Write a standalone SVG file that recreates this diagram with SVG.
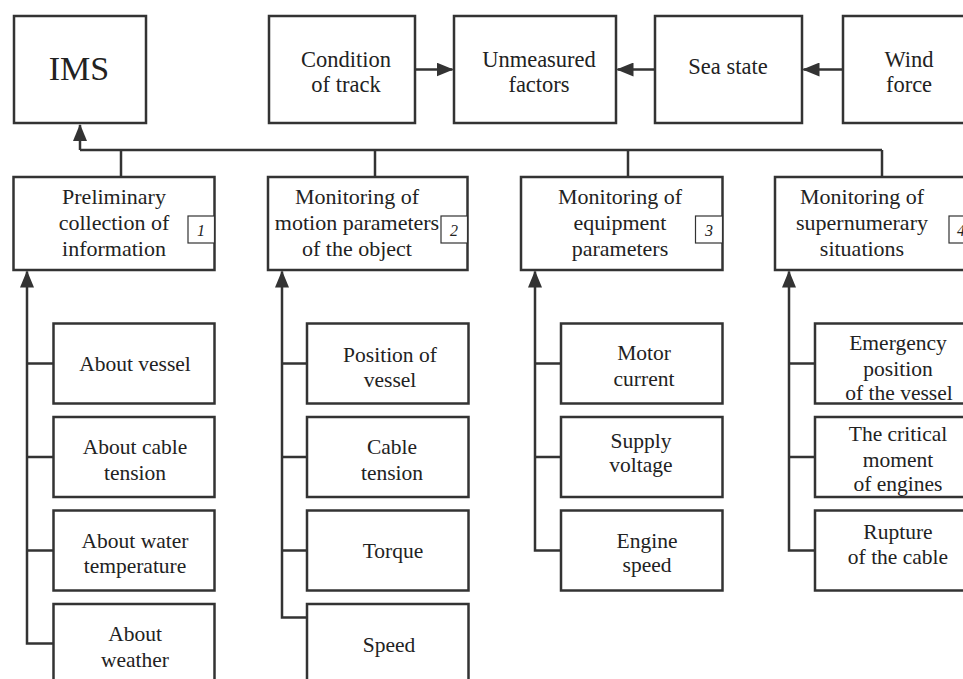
<svg xmlns="http://www.w3.org/2000/svg" width="963" height="679" viewBox="0 0 963 679">
<style>
  .box { fill: #ffffff; stroke: #333333; stroke-width: 2.5; }
  .num { fill: #ffffff; stroke: #333333; stroke-width: 1.2; }
  .t { font-family: "Liberation Serif", "Times New Roman", serif; font-size: 21.5px; fill: #222222; text-anchor: middle; }
  .m { font-family: "Liberation Serif", "Times New Roman", serif; font-size: 22px; fill: #222222; text-anchor: middle; }
  .tt { font-family: "Liberation Serif", "Times New Roman", serif; font-size: 22.5px; fill: #222222; text-anchor: middle; }
  .big { font-family: "Liberation Serif", "Times New Roman", serif; font-size: 34px; fill: #222222; text-anchor: middle; }
  .n { font-family: "Liberation Serif", "Times New Roman", serif; font-size: 16px; font-style: italic; fill: #222222; text-anchor: middle; }
  .c { fill: none; stroke: #333333; stroke-width: 2.5; }
  .a { fill: none; stroke: #333333; stroke-width: 2.5; marker-end: url(#arr); }
</style>
<defs>
  <marker id="arr" markerUnits="userSpaceOnUse" markerWidth="17" markerHeight="14" viewBox="0 0 17 14" refX="16" refY="7" orient="auto">
    <path d="M0,0 L17,7 L0,14 z" fill="#333333"/>
  </marker>
</defs>
<rect width="963" height="679" fill="#ffffff"/>

<g id="connectors">
  <path class="a" d="M80,150 V125"/>
  <path class="c" d="M80,150 H882"/>
  <path class="c" d="M121,150 V177"/>
  <path class="c" d="M375,150 V177"/>
  <path class="c" d="M628,150 V177"/>
  <path class="c" d="M882,150 V177"/>
  <path class="a" d="M415,69.5 H452.5"/>
  <path class="a" d="M655,69.5 H617.5"/>
  <path class="a" d="M843,69.5 H803.5"/>
  <path class="a" d="M53.5,643.5 H27 V271.5"/>
  <path class="c" d="M27,363.5 H53.5 M27,457 H53.5 M27,550.5 H53.5"/>
  <path class="a" d="M307,617.5 H282 V271.5"/>
  <path class="c" d="M282,363.5 H307 M282,457 H307 M282,550.5 H307"/>
  <path class="a" d="M561,550.5 H535 V271.5"/>
  <path class="c" d="M535,363.5 H561 M535,457 H561"/>
  <path class="a" d="M815,550.5 H789 V271.5"/>
  <path class="c" d="M789,363.5 H815 M789,457 H815"/>
</g>

<g id="ims"><rect class="box" x="14" y="16" width="132" height="107"/><text class="big" x="79" y="80">IMS</text></g>
<g id="condition"><rect class="box" x="269" y="16" width="146" height="107"/><text class="tt" x="346" y="67">Condition</text><text class="tt" x="346" y="92">of track</text></g>
<g id="unmeasured"><rect class="box" x="454" y="16" width="162" height="107"/><text class="tt" x="539" y="67">Unmeasured</text><text class="tt" x="539" y="92">factors</text></g>
<g id="sea"><rect class="box" x="655" y="16" width="147" height="107"/><text class="tt" x="728" y="74">Sea state</text></g>
<g id="wind"><rect class="box" x="843" y="16" width="147" height="107"/><text class="tt" x="909" y="67">Wind</text><text class="tt" x="909" y="92">force</text></g>

<g id="m1"><rect class="box" x="13.5" y="177" width="201" height="93"/><rect class="num" x="188" y="216" width="26.5" height="27"/><text class="n" x="201" y="236">1</text>
<text class="m" x="114" y="204">Preliminary</text><text class="m" x="114" y="230">collection of</text><text class="m" x="114" y="256">information</text></g>
<g id="m2"><rect class="box" x="268" y="177" width="199.5" height="93"/><rect class="num" x="441" y="216" width="26.5" height="27"/><text class="n" x="454" y="236">2</text>
<text class="m" x="357" y="204">Monitoring of</text><text class="m" x="357" y="230">motion parameters</text><text class="m" x="357" y="256">of the object</text></g>
<g id="m3"><rect class="box" x="521" y="177" width="201.5" height="93"/><rect class="num" x="695.5" y="216" width="27" height="27"/><text class="n" x="709" y="236">3</text>
<text class="m" x="620" y="204">Monitoring of</text><text class="m" x="620" y="230">equipment</text><text class="m" x="620" y="256">parameters</text></g>
<g id="m4"><rect class="box" x="775" y="177" width="201" height="93"/><rect class="num" x="949" y="216" width="27" height="27"/><text class="n" x="961" y="236">4</text>
<text class="m" x="862" y="204">Monitoring of</text><text class="m" x="862" y="230">supernumerary</text><text class="m" x="862" y="256">situations</text></g>

<g id="s1a"><rect class="box" x="53.5" y="323.5" width="161" height="80"/><text class="t" x="135" y="371">About vessel</text></g>
<g id="s1b"><rect class="box" x="53.5" y="417" width="161" height="80"/><text class="t" x="135" y="454">About cable</text><text class="t" x="135" y="480">tension</text></g>
<g id="s1c"><rect class="box" x="53.5" y="510.5" width="161" height="80"/><text class="t" x="135" y="548">About water</text><text class="t" x="135" y="573">temperature</text></g>
<g id="s1d"><rect class="box" x="53.5" y="604" width="161" height="80"/><text class="t" x="135" y="641">About</text><text class="t" x="135" y="667">weather</text></g>

<g id="s2a"><rect class="box" x="307" y="323.5" width="161.5" height="80"/><text class="t" x="390" y="362">Position of</text><text class="t" x="390" y="387">vessel</text></g>
<g id="s2b"><rect class="box" x="307" y="417" width="161.5" height="80"/><text class="t" x="392" y="454">Cable</text><text class="t" x="392" y="480">tension</text></g>
<g id="s2c"><rect class="box" x="307" y="510.5" width="161.5" height="80"/><text class="t" x="393" y="558">Torque</text></g>
<g id="s2d"><rect class="box" x="307" y="604" width="161.5" height="80"/><text class="t" x="389" y="652">Speed</text></g>

<g id="s3a"><rect class="box" x="561" y="323.5" width="161.5" height="80"/><text class="t" x="644" y="360">Motor</text><text class="t" x="644" y="386">current</text></g>
<g id="s3b"><rect class="box" x="561" y="417" width="161.5" height="80"/><text class="t" x="641" y="448">Supply</text><text class="t" x="641" y="472">voltage</text></g>
<g id="s3c"><rect class="box" x="561" y="510.5" width="161.5" height="80"/><text class="t" x="647" y="548">Engine</text><text class="t" x="647" y="572">speed</text></g>

<g id="s4a"><rect class="box" x="815" y="323.5" width="162" height="80"/><text class="t" x="898" y="350">Emergency</text><text class="t" x="898" y="376">position</text><text class="t" x="899" y="400">of the vessel</text></g>
<g id="s4b"><rect class="box" x="815" y="417" width="162" height="80"/><text class="t" x="898" y="441">The critical</text><text class="t" x="898" y="467">moment</text><text class="t" x="898" y="491">of engines</text></g>
<g id="s4c"><rect class="box" x="815" y="510.5" width="162" height="80"/><text class="t" x="898" y="539">Rupture</text><text class="t" x="898" y="564">of the cable</text></g>
</svg>
